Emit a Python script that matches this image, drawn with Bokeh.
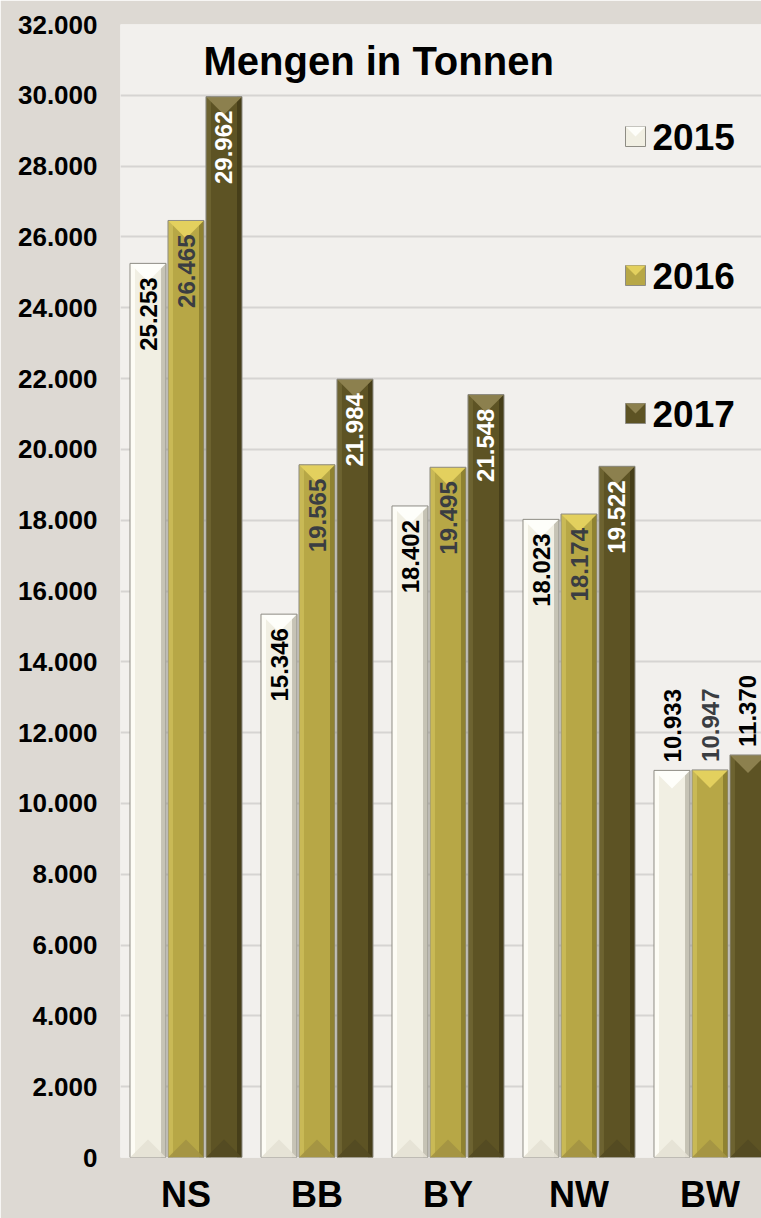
import numpy as np
from bokeh.plotting import figure
from bokeh.models import ColumnDataSource, FixedTicker, Range1d
from bokeh.embed import file_html
from bokeh.resources import INLINE
from bokeh.core.properties import value

# ---------------- data ----------------
categories = ["NS", "BB", "BY", "NW", "BW"]
years = ["2015", "2016", "2017"]
v2015 = [25253, 15346, 18402, 18023, 10933]
v2016 = [26465, 19565, 19495, 18174, 10947]
v2017 = [29962, 21984, 21548, 19522, 11370]
y_ticks = list(range(0, 32001, 2000))
y_tick_labels = [f"{t:,}".replace(",", ".") for t in y_ticks]
title_text = "Mengen in Tonnen"

# ---------------- styling ----------------
FONT = "Liberation Sans"
series_vals = [v2015, v2016, v2017]
offsets = [-0.29, 0.0, 0.29]
bar_w = 0.275
palettes = [
    dict(main="#f1efe3", left="#fdfcf5", right="#c6c3b5", top="#fefefa", bot="#e4e1d4", label="#000000"),
    dict(main="#b7a746", left="#c9b956", right="#8f8231", top="#e3d05e", bot="#a39342", label="#3a3d42"),
    dict(main="#5d5324", left="#6d6331", right="#463e19", top="#8c804e", bot="#534a22", label="#ffffff"),
]

FRAME_TOP, FRAME_BOTTOM, FRAME_LEFT = 24, 1157, 120
PX_Y = 32000 / (FRAME_BOTTOM - FRAME_TOP)   # data units per pixel (vertical)
PX_X = 1 / 131.0                            # data units per pixel (horizontal)


def ydata(px):
    return (FRAME_BOTTOM - px) * PX_Y


def xdata(px):
    return (px - FRAME_LEFT) * PX_X - 0.5


p = figure(width=761, height=1218, output_backend="svg", toolbar_location=None,
           x_range=Range1d(-0.5, xdata(761)), y_range=Range1d(0, 32000),
           min_border_left=FRAME_LEFT, min_border_right=0, min_border_top=FRAME_TOP,
           min_border_bottom=1218 - FRAME_BOTTOM)
p.outline_line_color = None
p.background_fill_color = "#f2f0ed"
p.border_fill_color = "#ddd9d3"

p.xgrid.grid_line_color = None
p.ygrid.grid_line_color = "#d6d4d2"
p.ygrid.grid_line_width = 2
p.ygrid.ticker = FixedTicker(ticks=y_ticks)

p.yaxis.ticker = FixedTicker(ticks=y_ticks)
p.yaxis.major_label_overrides = {t: l for t, l in zip(y_ticks, y_tick_labels)}
p.yaxis.axis_line_color = None
p.yaxis.major_tick_line_color = None
p.yaxis.minor_tick_line_color = None
p.yaxis.major_tick_out = 0
p.yaxis.major_label_standoff = 23
p.yaxis.major_label_text_font = FONT
p.yaxis.major_label_text_font_style = "bold"
p.yaxis.major_label_text_font_size = "26px"
p.yaxis.major_label_text_color = "#000000"

xt = list(range(len(categories)))
p.xaxis.ticker = FixedTicker(ticks=xt)
p.xaxis.major_label_overrides = {i: c for i, c in zip(xt, categories)}
p.xaxis.axis_line_color = None
p.xaxis.major_tick_line_color = None
p.xaxis.minor_tick_line_color = None
p.xaxis.major_tick_out = 0
p.xaxis.major_label_standoff = 16
p.xaxis.major_label_text_font = FONT
p.xaxis.major_label_text_font_style = "bold"
p.xaxis.major_label_text_font_size = "36px"
p.xaxis.major_label_text_color = "#000000"

tri_h = 18 * PX_Y
strip = 5 * PX_X

for vals, off, pal in zip(series_vals, offsets, palettes):
    xc = np.arange(len(vals)) + off
    top = np.array(vals, dtype=float)
    left = xc - bar_w / 2
    right = xc + bar_w / 2
    p.quad(left=left, right=right, bottom=0, top=top, fill_color=pal["main"], line_color=None)
    p.quad(left=left, right=left + strip, bottom=0, top=top, fill_color=pal["left"], line_color=None)
    p.quad(left=right - strip, right=right, bottom=0, top=top, fill_color=pal["right"], line_color=None)
    xs_t = [[l, r, c] for l, r, c in zip(left, right, xc)]
    ys_t = [[t, t, t - tri_h] for t in top]
    p.patches(xs=xs_t, ys=ys_t, fill_color=pal["top"], line_color=None)
    ys_b = [[0, 0, tri_h] for t in top]
    p.patches(xs=xs_t, ys=ys_b, fill_color=pal["bot"], line_color=None, fill_alpha=0.9)
    p.quad(left=left, right=right, bottom=0, top=top, fill_color=None, line_color="#8e8c84", line_width=1)

    inside = top > 14000
    lab = [f"{int(v):,}".replace(",", ".") for v in vals]
    src_in = ColumnDataSource(dict(x=xc[inside], y=top[inside] - 14 * PX_Y,
                                   t=[l for l, k in zip(lab, inside) if k]))
    src_out = ColumnDataSource(dict(x=xc[~inside], y=top[~inside] + 8 * PX_Y,
                                    t=[l for l, k in zip(lab, inside) if not k]))
    p.text(x="x", y="y", text="t", source=src_in, angle=np.pi / 2, text_align="right",
           text_baseline="middle", text_font=value(FONT), text_font_style="bold",
           text_font_size="24px", text_color=pal["label"])
    out_color = pal["label"] if pal["label"] != "#ffffff" else "#000000"
    p.text(x="x", y="y", text="t", source=src_out, angle=np.pi / 2, text_align="left",
           text_baseline="middle", text_font=value(FONT), text_font_style="bold",
           text_font_size="24px", text_color=out_color)

# title inside the plot
p.text(x=[xdata(203)], y=[ydata(60)], text=[title_text], text_align="left",
       text_baseline="middle", text_font=value(FONT), text_font_style="bold",
       text_font_size="40px", text_color="#000000")

# legend (drawn manually)
leg_y_px = [136, 275, 413]
sq = 20
for yr, pal, ypx in zip(years, palettes, leg_y_px):
    yc = ydata(ypx)
    xc = xdata(635)
    hw = sq / 2 * PX_X
    hh = sq / 2 * PX_Y
    p.quad(left=[xc - hw], right=[xc + hw], bottom=[yc - hh], top=[yc + hh],
           fill_color=pal["main"], line_color="#8e8c84")
    p.patches(xs=[[xc - hw, xc + hw, xc]], ys=[[yc + hh, yc + hh, yc]], fill_color=pal["top"], line_color=None)
    p.text(x=[xdata(652)], y=[yc], text=[yr], text_align="left", text_baseline="middle",
           text_font=value(FONT), text_font_style="bold", text_font_size="37px", text_color="#000000")

open("out.html", "w").write(file_html(p, INLINE))
